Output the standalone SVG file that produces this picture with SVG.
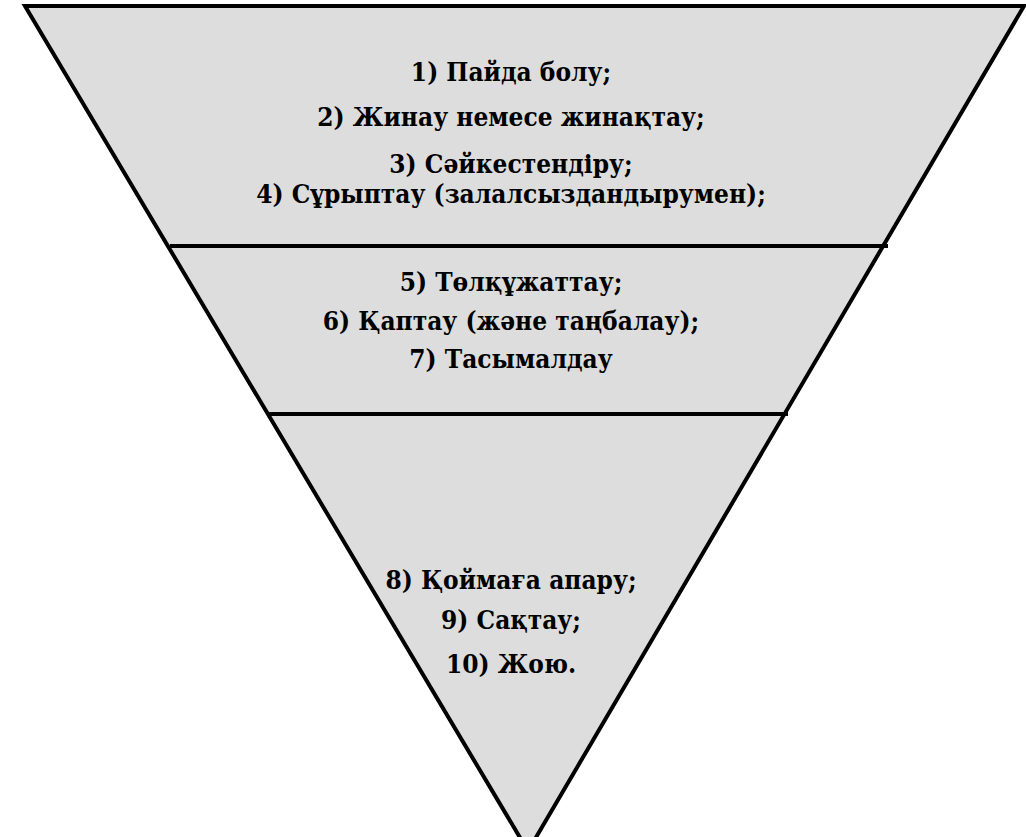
<svg xmlns="http://www.w3.org/2000/svg" width="1026" height="837" viewBox="0 0 1026 837">
<style>
.t{font-family:"DejaVu Serif","Liberation Serif",serif;font-weight:bold;font-stretch:condensed;font-size:26px;fill:#000;text-anchor:middle}
.ln{stroke:#000;stroke-width:4;fill:none}
</style>
<rect width="1026" height="837" fill="#fff"/>
<g id="funnel">
<polygon points="25,6 1024,6 528,851" fill="#dddddd" stroke="#000" stroke-width="4" stroke-linejoin="miter"/>
</g>
<g id="connectors">
<line class="ln" x1="170" y1="246" x2="888" y2="246"/>
<line class="ln" x1="268" y1="414" x2="788" y2="414"/>
</g>
<g id="section1">
<text class="t" x="511" y="81">1) Пайда болу;</text>
<text class="t" x="511" y="126">2) Жинау немесе жинақтау;</text>
<text class="t" x="511" y="173">3) Сәйкестендіру;</text>
<text class="t" x="511" y="203">4) Сұрыптау (залалсыздандырумен);</text>
</g>
<g id="section2">
<text class="t" x="511" y="291">5) Төлқұжаттау;</text>
<text class="t" x="511" y="330">6) Қаптау (және таңбалау);</text>
<text class="t" x="511" y="368">7) Тасымалдау</text>
</g>
<g id="section3">
<text class="t" x="511" y="589">8) Қоймаға апару;</text>
<text class="t" x="511" y="629">9) Сақтау;</text>
<text class="t" x="511" y="673">10) Жою.</text>
</g>
</svg>
